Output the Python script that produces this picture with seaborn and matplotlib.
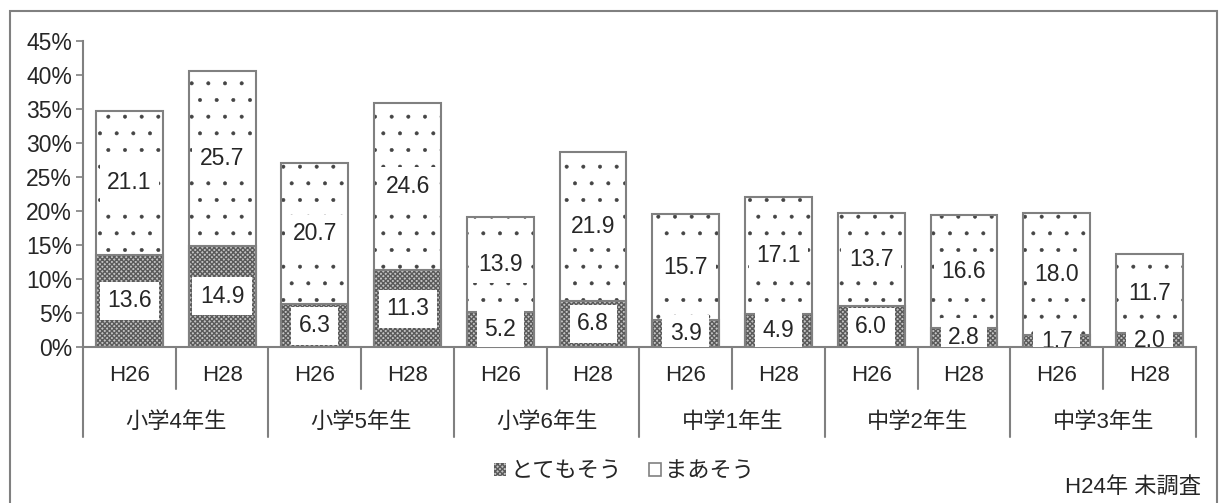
import pandas as pd
import matplotlib.pyplot as plt
import matplotlib.patches as mpatches
import seaborn as sns

# data (%)
groups = ['小学4年生', '小学5年生', '小学6年生', '中学1年生', '中学2年生', '中学3年生']
years = ['H26', 'H28']
totemo = [13.6, 14.9, 6.3, 11.3, 5.2, 6.8, 3.9, 4.9, 6.0, 2.8, 1.7, 2.0]
maa = [21.1, 25.7, 20.7, 24.6, 13.9, 21.9, 15.7, 17.1, 13.7, 16.6, 18.0, 11.7]
yticks = [0, 5, 10, 15, 20, 25, 30, 35, 40, 45]

keys = [g + ' ' + y for g in groups for y in years]
df = pd.DataFrame({'key': keys, 'totemo': totemo, 'maa': maa})
df['total'] = df['totemo'] + df['maa']

sns.set_style('white')
plt.rcParams['font.family'] = ['Liberation Sans', 'Noto Sans CJK JP']
fs = 16

fig = plt.figure(figsize=(12.19, 5.03), dpi=100)
ax = fig.add_axes([0.0681, 0.3101, 0.9129, 0.6084])

edge = '#808080'
dark_face = '#c4c4c4'
dark_hatch = '#5a5a5a'

# まあそう: total bar with small dots
sns.barplot(data=df, x='key', y='total', order=keys, color='white', saturation=1,
            width=0.72, edgecolor='#444444', linewidth=0, hatch='.', ax=ax)
n = len(keys)
for p in ax.patches[:n]:
    if hasattr(p, 'set_hatch_linewidth'):
        p.set_hatch_linewidth(0.4)
# とてもそう: lower segment, dense checker
sns.barplot(data=df, x='key', y='totemo', order=keys, color=dark_face, saturation=1,
            width=0.72, edgecolor=dark_hatch, linewidth=0, hatch='xxxxxxx', ax=ax)
for p in ax.patches[n:2 * n]:
    if hasattr(p, 'set_hatch_linewidth'):
        p.set_hatch_linewidth(1.0)
# outlines
sns.barplot(data=df, x='key', y='total', order=keys, color=edge, fill=False,
            width=0.72, linewidth=1.5, ax=ax)
sns.barplot(data=df, x='key', y='totemo', order=keys, color=edge, fill=False,
            width=0.72, linewidth=1.5, ax=ax)

bbox = dict(boxstyle='square,pad=0.33', fc='white', ec='none')
for i, row in df.iterrows():
    ax.text(i, row['totemo'] / 2, f"{row['totemo']:.1f}", ha='center', va='center',
            fontsize=fs + 0.5, bbox=bbox, zorder=5, clip_on=True)
    ax.text(i, row['totemo'] + row['maa'] / 2, f"{row['maa']:.1f}", ha='center', va='center',
            fontsize=fs + 0.5, bbox=bbox, zorder=5, clip_on=True)

ax.set_ylim(0, 45)
ax.set_xlim(-0.5, n - 0.5)
ax.set_yticks(yticks)
ax.set_yticklabels([f'{t}%' for t in yticks], fontsize=fs + 0.5)
ax.set_xticks(range(n))
ax.set_xticklabels([y for g in groups for y in years], fontsize=fs)
ax.tick_params(axis='x', length=0, pad=13)
ax.tick_params(axis='y', length=5, width=1.2, color=edge, direction='out', left=True, pad=3)
ax.set_xlabel('')
ax.set_ylabel('')
for s in ['top', 'right']:
    ax.spines[s].set_visible(False)
for s in ['left', 'bottom']:
    ax.spines[s].set_color(edge)
    ax.spines[s].set_linewidth(1.5)

# category separators and group labels below the axis
tr = ax.get_xaxis_transform()
for j in range(n + 1):
    x = j - 0.5
    y1 = -0.294 if j % 2 == 0 else -0.137
    ax.plot([x, x], [0, y1], color=edge, lw=1.5, transform=tr, clip_on=False)
for k, g in enumerate(groups):
    ax.text(2 * k + 0.5, -0.248, g, transform=tr, ha='center', va='center', fontsize=fs)

handles = [mpatches.Patch(facecolor=dark_face, edgecolor=dark_hatch, hatch='xxxxxxx', linewidth=0, label='とてもそう'),
           mpatches.Patch(facecolor='white', edgecolor=edge, linewidth=1.2, label='まあそう')]
fig.legend(handles=handles, loc='center', bbox_to_anchor=(0.512, 0.062), ncol=2, frameon=False,
           fontsize=fs, handlelength=0.55, handleheight=0.55, handletextpad=0.2, columnspacing=1.2)

fig.text(0.985, 0.032, 'H24年 未調査', ha='right', va='center', fontsize=fs)

fig.patches.append(mpatches.Rectangle((0.0082, -0.02), 0.9902, 0.998, transform=fig.transFigure,
                                      fill=False, edgecolor=edge, linewidth=1.5))

fig.savefig('out.png', dpi=100)
